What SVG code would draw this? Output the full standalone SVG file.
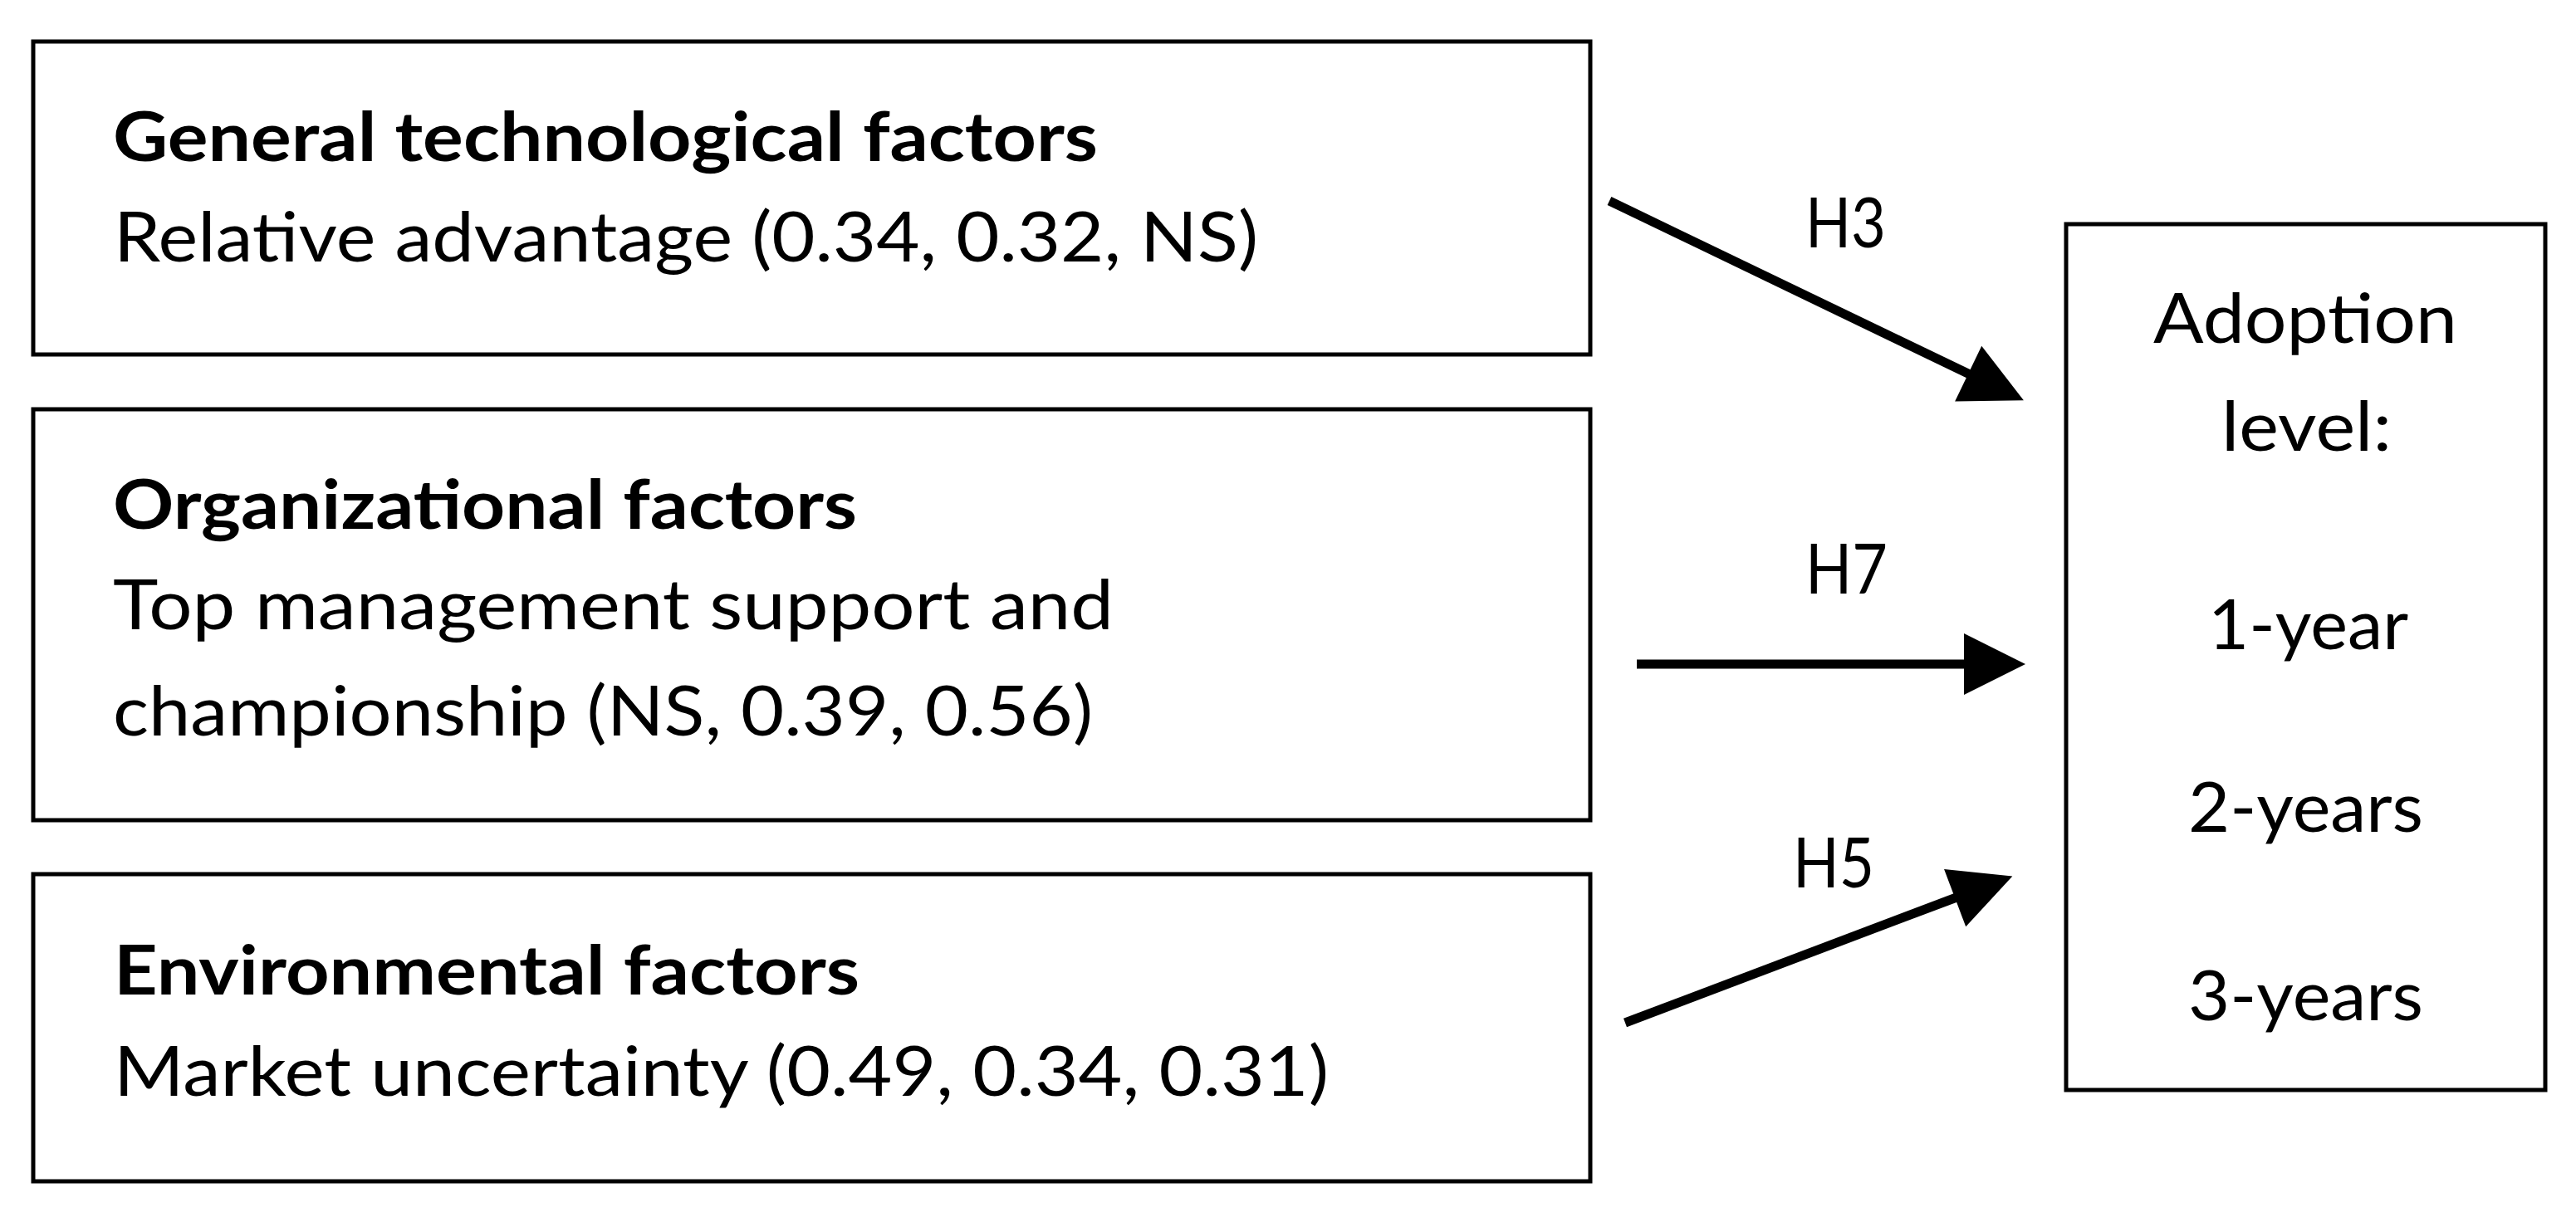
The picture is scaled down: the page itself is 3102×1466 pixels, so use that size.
<svg xmlns="http://www.w3.org/2000/svg" width="3102" height="1466" viewBox="0 0 3102 1466">
  <style>
    .box { fill: #ffffff; stroke: #000000; stroke-width: 5; }
    .t { font-family: Lato, "Open Sans", "Liberation Sans", sans-serif; font-size: 83px; fill: #000000; }
    .b { font-weight: bold; }
    .c { text-anchor: middle; }
    .conn { stroke: #000000; stroke-width: 11; fill: none; }
  </style>
  <defs>
    <marker id="arrow" markerUnits="userSpaceOnUse" markerWidth="74" markerHeight="74" refX="2" refY="37" orient="auto" overflow="visible">
      <path d="M0,0 L74,37 L0,74 Z" fill="#000000"/>
    </marker>
  </defs>
  <rect width="3102" height="1466" fill="#ffffff"/>

  <g id="node-technological">
    <rect class="box" x="40" y="50" width="1875" height="377"/>
    <text class="t b" x="136" y="194" textLength="1186" lengthAdjust="spacingAndGlyphs">General technological  factors</text>
    <text class="t" x="137" y="315" textLength="1378" lengthAdjust="spacingAndGlyphs">Relative advantage (0.34, 0.32, NS)</text>
  </g>

  <g id="node-organizational">
    <rect class="box" x="40" y="493" width="1875" height="495"/>
    <text class="t b" x="136" y="637" textLength="896" lengthAdjust="spacingAndGlyphs">Organizational factors</text>
    <text class="t" x="136" y="758" textLength="1205" lengthAdjust="spacingAndGlyphs">Top management support and</text>
    <text class="t" x="136" y="886" textLength="1180" lengthAdjust="spacingAndGlyphs">championship (NS, 0.39, 0.56)</text>
  </g>

  <g id="node-environmental">
    <rect class="box" x="40" y="1053" width="1875" height="370"/>
    <text class="t b" x="137" y="1198" textLength="898" lengthAdjust="spacingAndGlyphs">Environmental factors</text>
    <text class="t" x="137" y="1320" textLength="1463" lengthAdjust="spacingAndGlyphs">Market uncertainty (0.49, 0.34, 0.31)</text>
  </g>

  <g id="node-adoption">
    <rect class="box" x="2488" y="270" width="577" height="1043"/>
    <text class="t" x="2593" y="413" textLength="366" lengthAdjust="spacingAndGlyphs">Adoption</text>
    <text class="t" x="2675" y="543" textLength="205" lengthAdjust="spacingAndGlyphs">level:</text>
    <text class="t" x="2659" y="782" textLength="241" lengthAdjust="spacingAndGlyphs">1-year</text>
    <text class="t" x="2635" y="1002" textLength="283" lengthAdjust="spacingAndGlyphs">2-years</text>
    <text class="t" x="2635" y="1229" textLength="283" lengthAdjust="spacingAndGlyphs">3-years</text>
  </g>

  <g id="connectors">
    <line class="conn" x1="1938" y1="242" x2="2372" y2="451" marker-end="url(#arrow)"/>
    <line class="conn" x1="1971" y1="800" x2="2367" y2="800" marker-end="url(#arrow)"/>
    <line class="conn" x1="1957" y1="1232" x2="2356" y2="1081" marker-end="url(#arrow)"/>
    <text class="t" x="2174" y="298" textLength="97" lengthAdjust="spacingAndGlyphs">H3</text>
    <text class="t" x="2174" y="715" textLength="99" lengthAdjust="spacingAndGlyphs">H7</text>
    <text class="t" x="2159" y="1069" textLength="98" lengthAdjust="spacingAndGlyphs">H5</text>
  </g>
</svg>
